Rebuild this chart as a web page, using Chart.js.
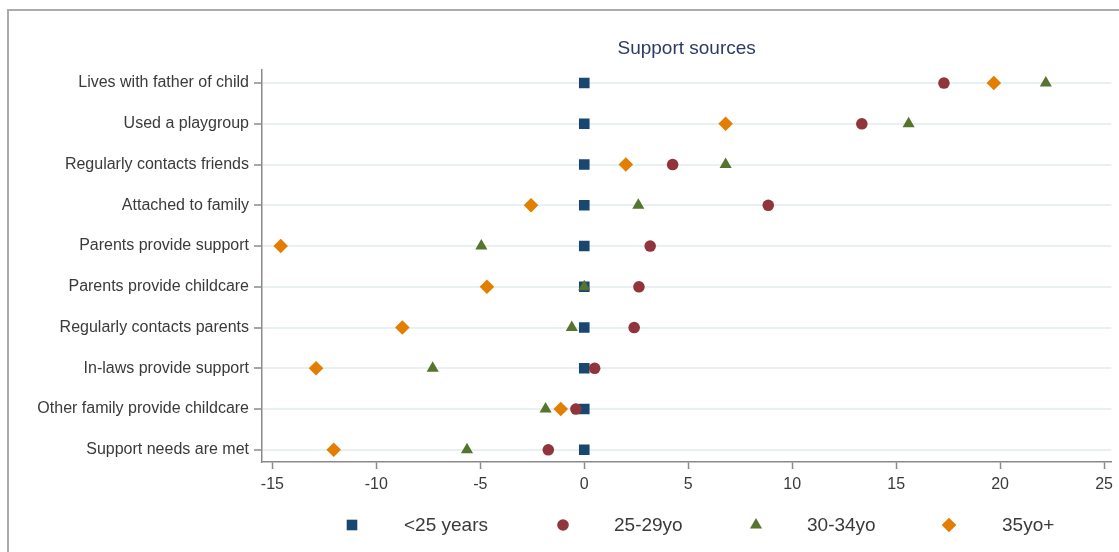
<!DOCTYPE html>
<html lang="en">
<head>
  <meta charset="utf-8">
  <title>Support sources</title>
  <style type="text/css">
    html, body {
      margin: 0;
      padding: 0;
      background-color: #ffffff;
      overflow: hidden;
    }
    .frame {
      position: absolute;
      left: 7px;
      top: 9px;
      width: 1200px;
      height: 700px;
      border-left: 2px solid #ababab;
      border-top: 2px solid #ababab;
    }
    .box {
      position: absolute;
      left: 0;
      top: 0;
      width: 1119px;
      height: 552px;
    }
  </style>
  <script src="https://cdn.jsdelivr.net/npm/chart.js@4.4.1/dist/chart.umd.min.js"></script>
</head>
<body>
  <div class="frame"></div>
  <div class="box"><canvas id="graph"></canvas></div>
  <script>
    // rows, top to bottom
    const categories = [
      "Lives with father of child",
      "Used a playgroup",
      "Regularly contacts friends",
      "Attached to family",
      "Parents provide support",
      "Parents provide childcare",
      "Regularly contacts parents",
      "In-laws provide support",
      "Other family provide childcare",
      "Support needs are met"
    ];
    const seriesNames = ["<25 years", "25-29yo", "30-34yo", "35yo+"];
    const under25 = [0, 0, 0, 0, 0, 0, 0, 0, 0, 0];
    const age25to29 = [17.3, 13.35, 4.25, 8.85, 3.17, 2.63, 2.4, 0.5, -0.4, -1.73];
    const age30to34 = [22.2, 15.6, 6.8, 2.6, -4.95, 0.0, -0.6, -7.29, -1.86, -5.64];
    const age35plus = [19.7, 6.8, 2.0, -2.56, -14.6, -4.68, -8.75, -12.9, -1.13, -12.05];
    const xTicks = [-15, -10, -5, 0, 5, 10, 15, 20, 25];

    const colors = ["#1a476f", "#90353b", "#55752f", "#e37e00"];
    const styles = ["rect", "circle", "triangle", "rectRot"];
    const radii = [7.5, 5.8, 7, 7.3];
    const values = [under25, age25to29, age30to34, age35plus];

    function toPoints(arr) {
      var pts = [];
      for (var i = 0; i < arr.length; i++) {
        pts.push({ x: arr[i], y: i });
      }
      return pts;
    }

    var datasets = [];
    for (var s = 0; s < values.length; s++) {
      datasets.push({
        label: seriesNames[s],
        data: toPoints(values[s]),
        backgroundColor: colors[s],
        borderColor: colors[s],
        borderWidth: 0,
        pointStyle: styles[s],
        pointRadius: radii[s],
        order: values.length - s
      });
    }

    // legend drawn along the bottom
    const legendPlugin = {
      id: "bottomLegend",
      afterDraw: function (chart) {
        var ctx = chart.ctx;
        var markX = [352, 563, 756, 949];
        var textX = [404, 614, 807, 1002];
        var y = 525;
        ctx.save();
        for (var i = 0; i < seriesNames.length; i++) {
          ctx.fillStyle = colors[i];
          Chart.helpers.drawPoint(ctx, { pointStyle: styles[i], radius: radii[i], rotation: 0, borderWidth: 0 }, markX[i], y);
          ctx.fillStyle = "#3a3a3a";
          ctx.font = "19px 'Liberation Sans', Arial, sans-serif";
          ctx.textAlign = "left";
          ctx.textBaseline = "middle";
          ctx.fillText(seriesNames[i], textX[i], y + 1);
        }
        ctx.restore();
      }
    };

    var ctx = document.getElementById("graph").getContext("2d");
    window.myChart = new Chart(ctx, {
      type: "scatter",
      data: { datasets: datasets },
      plugins: [legendPlugin],
      options: {
        responsive: true,
        maintainAspectRatio: false,
        animation: false,
        events: [],
        layout: {
          padding: { left: 0, right: 1, top: 0, bottom: 60 }
        },
        plugins: {
          legend: { display: false },
          tooltip: { enabled: false },
          title: {
            display: true,
            text: "Support sources",
            fullSize: false,
            color: "#2c3b66",
            font: { family: "'Liberation Sans', Arial, sans-serif", size: 19, weight: "normal" },
            padding: { top: 37.6, bottom: 9.6 }
          }
        },
        scales: {
          x: {
            type: "linear",
            min: -15.5,
            max: 25.35,
            afterBuildTicks: function (scale) {
              scale.ticks = xTicks.map(function (v) { return { value: v }; });
            },
            afterFit: function (scale) {
              scale.height = 30;
            },
            grid: {
              drawOnChartArea: false,
              drawTicks: true,
              tickLength: 7,
              tickColor: "#8a8a8a",
              tickWidth: 1.5
            },
            border: { color: "#8a8a8a", width: 1.5 },
            ticks: {
              color: "#3a3a3a",
              padding: 6,
              font: { family: "'Liberation Sans', Arial, sans-serif", size: 16 }
            }
          },
          y: {
            type: "linear",
            reverse: true,
            min: -0.32,
            max: 9.3,
            afterBuildTicks: function (scale) {
              scale.ticks = categories.map(function (c, i) { return { value: i }; });
            },
            afterFit: function (scale) {
              scale.width = 262;
              scale.paddingTop = 0;
              scale.paddingBottom = 0;
            },
            grid: {
              color: "#e8f0f1",
              lineWidth: 2,
              drawTicks: true,
              tickLength: 8,
              tickColor: "#8a8a8a",
              tickWidth: 1.5
            },
            border: { color: "#8a8a8a", width: 1.5 },
            ticks: {
              color: "#3a3a3a",
              padding: 5,
              font: { family: "'Liberation Sans', Arial, sans-serif", size: 16 },
              callback: function (value) {
                return categories[value];
              }
            }
          }
        }
      }
    });
  </script>
</body>
</html>
